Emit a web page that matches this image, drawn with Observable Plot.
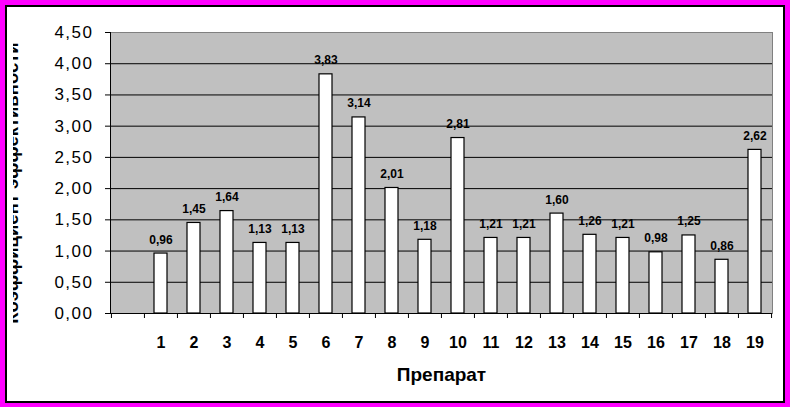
<!DOCTYPE html>
<html>
<head>
<meta charset="utf-8">
<script src="https://cdn.jsdelivr.net/npm/d3@7"></script>
<script src="https://cdn.jsdelivr.net/npm/@observablehq/plot@0.6"></script>
<style>
  body { margin: 0; }
  #outer { position: relative; width: 790px; height: 407px; background: #ff00ff; overflow: hidden; }
  #inner { position: absolute; left: 5px; top: 5px; width: 780px; height: 398px; box-sizing: border-box; border: 2px solid #000; background: #fff; }
  #chart { position: absolute; left: 13px; top: 7px; }
  #chart svg [aria-label^="y-axis"] text { letter-spacing: 1.5px; }
</style>
</head>
<body>
<div id="outer"><div id="inner"></div><div id="chart"></div></div>
<script>
// Data
const categories = ["", "1", "2", "3", "4", "5", "6", "7", "8", "9", "10", "11", "12", "13", "14", "15", "16", "17", "18", "19"];
const drugs = ["1", "2", "3", "4", "5", "6", "7", "8", "9", "10", "11", "12", "13", "14", "15", "16", "17", "18", "19"];
const values = [0.96, 1.45, 1.64, 1.13, 1.13, 3.83, 3.14, 2.01, 1.18, 2.81, 1.21, 1.21, 1.60, 1.26, 1.21, 0.98, 1.25, 0.86, 2.62];
const yTicks = [0, 0.5, 1, 1.5, 2, 2.5, 3, 3.5, 4, 4.5];
const xTitle = "Препарат";
const yTitle = "Коэффициент эффективности";

const data = drugs.map((d, i) => ({drug: d, value: values[i]}));
const fmt = v => v.toFixed(2).replace(".", ",");

const W = 770, H = 394, mL = 97, mR = 11, mT = 25, mB = 88;
const step = (W - mL - mR) / categories.length;

const chart = Plot.plot({
  width: W, height: H,
  marginLeft: mL, marginRight: mR, marginTop: mT, marginBottom: mB,
  style: {background: "transparent", fontFamily: "'Liberation Sans', Arial, sans-serif", overflow: "hidden", color: "black"},
  x: {domain: categories, paddingInner: 0.6, paddingOuter: 0.3},
  y: {domain: [0, 4.5]},
  marks: [
    Plot.frame({fill: "#c0c0c0", stroke: "#808080"}),
    Plot.ruleY(yTicks.slice(1, -1), {stroke: "black"}),
    Plot.barY(data, {x: "drug", y: "value", fill: "white", stroke: "black", strokeWidth: 1.2}),
    Plot.ruleY([0], {stroke: "black"}),
    Plot.frame({anchor: "left", stroke: "black"}),
    Plot.ruleX(categories, {x: d => d, y1: 0, y2: 0, insetBottom: -5, dx: -step / 2, stroke: "black"}),
    Plot.ruleX(categories.slice(-1), {x: d => d, y1: 0, y2: 0, insetBottom: -5, dx: step / 2, stroke: "black"}),
    Plot.axisY(yTicks, {tickSize: 5, tickPadding: 12, tickFormat: fmt, fontSize: 17, label: null}),
    Plot.axisX({tickSize: 0, tickPadding: 23, fontSize: 16, fontWeight: "bold", label: null}),
    Plot.text(data, {x: "drug", y: "value", text: d => fmt(d.value), lineAnchor: "bottom", dy: -10, fontWeight: "bold", fontSize: 12, fill: "black"}),
    Plot.text([xTitle], {frameAnchor: "bottom", lineAnchor: "bottom", dy: 67, fontWeight: "bold", fontSize: 19, fill: "black"}),
    Plot.text([yTitle], {frameAnchor: "left", textAnchor: "middle", rotate: -90, lineAnchor: "bottom", dx: -93, dy: 10, fontWeight: "bold", fontSize: 18.5, fill: "black"})
  ]
});
document.getElementById("chart").appendChild(chart);
</script>
</body>
</html>
